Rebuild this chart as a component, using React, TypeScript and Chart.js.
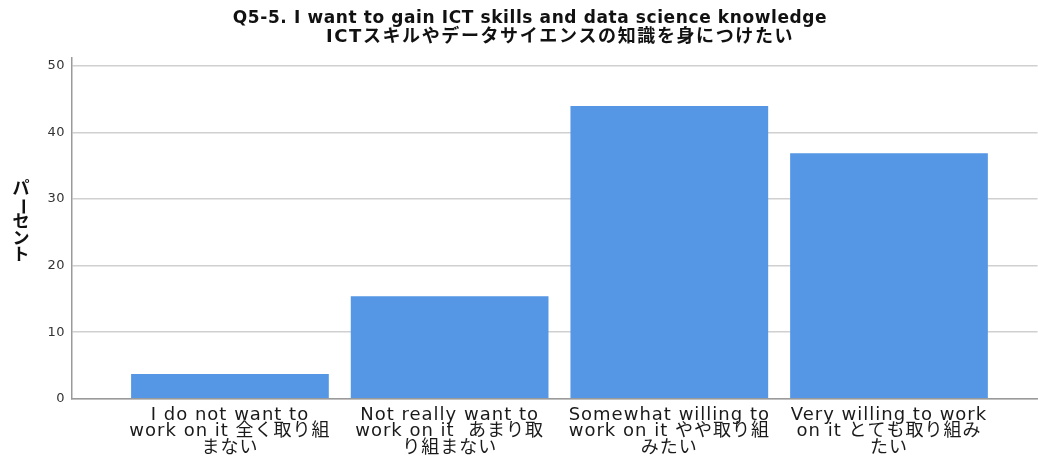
import React, { useEffect, useRef } from "react";
import { Chart, registerables } from "chart.js";

Chart.register(...registerables);

const categories: string[][] = [
  ["I do not want to", "work on it 全く取り組", "まない"],
  ["Not really want to", "work on it  あまり取", "り組まない"],
  ["Somewhat willing to", "work on it やや取り組", "みたい"],
  ["Very willing to work", "on it とても取り組み", "たい"],
];
const percents: number[] = [3.7, 15.4, 44.0, 36.9];
const yTicks: number[] = [0, 10, 20, 30, 40, 50];
const titleLines: string[] = [
  "Q5-5. I want to gain ICT skills and data science knowledge",
  "ICTスキルやデータサイエンスの知識を身につけたい",
];
const yLabel = "パーセント";

const FONT = "'DejaVu Sans', 'Noto Sans CJK JP', sans-serif";

const overlay = {
  id: "overlay",
  afterDraw(chart: any) {
    const ctx = chart.ctx;
    ctx.save();
    ctx.fillStyle = "#111";
    ctx.textBaseline = "middle";
    ctx.textAlign = "center";
    ctx.font = `bold 17px ${FONT}`;
    ctx.letterSpacing = "0.6px";
    ctx.fillText(titleLines[0], 530, 18.5);
    ctx.font = `bold 18px ${FONT}`;
    ctx.letterSpacing = "1.6px";
    ctx.fillText(titleLines[1], 560, 37);
    ctx.letterSpacing = "0px";
    ctx.font = `bold 17px ${FONT}`;
    const chars = Array.from(yLabel);
    let y = 190;
    for (const ch of chars) {
      if (ch === "ー") {
        ctx.save();
        ctx.translate(21, y);
        ctx.rotate(Math.PI / 2);
        ctx.fillText(ch, 0, 0);
        ctx.restore();
      } else {
        ctx.fillText(ch, 21, y);
      }
      y += 16.5;
    }
    ctx.restore();
  },
};

function patchLabels(s: any, spacing: string) {
  if (s.__patched) return;
  s.__patched = true;
  const orig = s.drawLabels;
  s.drawLabels = function (area: any) {
    const ctx = this.ctx;
    const prev = ctx.letterSpacing;
    ctx.letterSpacing = spacing;
    orig.call(this, area);
    ctx.letterSpacing = prev || "0px";
  };
}

export default function App() {
  const ref = useRef<HTMLCanvasElement>(null);
  useEffect(() => {
    if (!ref.current) return;
    const chart = new Chart(ref.current, {
      type: "bar",
      data: {
        datasets: [
          {
            data: percents.map((v, i) => ({ x: i, y: v })),
            backgroundColor: "#5596E5",
            borderWidth: 0,
            barPercentage: 0.9,
            categoryPercentage: 1,
          },
        ],
      },
      options: {
        animation: false,
        responsive: false,
        maintainAspectRatio: false,
        layout: { padding: { top: 58, right: 0.5, left: 0, bottom: 0 } },
        plugins: {
          legend: { display: false },
          title: { display: false },
          tooltip: { enabled: false },
        },
        scales: {
          x: {
            type: "linear",
            offset: false,
            min: -0.719,
            max: 3.676,
            afterBuildTicks: (s: any) => {
              s.ticks = categories.map((_, i) => ({ value: i }));
              patchLabels(s, "1px");
            },
            afterFit: (s: any) => {
              s.height = 60.3;
            },
            grid: { display: false, drawTicks: false, offset: false },
            border: { display: true, color: "#9a9a9a", width: 1.5 },
            ticks: {
              autoSkip: false,
              maxRotation: 0,
              padding: 8,
              color: "#1a1a1a",
              font: { family: FONT, size: 18, lineHeight: 0.92 },
              callback: (v: any) => categories[Math.round(Number(v))] ?? "",
            },
          },
          y: {
            min: 0,
            max: 51.2,
            afterBuildTicks: (s: any) => {
              s.ticks = yTicks.map((v) => ({ value: v }));
              patchLabels(s, "0.5px");
            },
            afterFit: (s: any) => {
              s.width = 72;
            },
            grid: { color: "#d0d0d0", lineWidth: 1.5, drawTicks: false },
            border: { display: true, color: "#9a9a9a", width: 1.5 },
            ticks: {
              padding: 7,
              color: "#333",
              font: { family: FONT, size: 13 },
            },
          },
        },
      },
      plugins: [overlay],
    });
    return () => chart.destroy();
  }, []);
  return (
    <div style={{ position: "fixed", left: 0, top: 0, width: 1038, height: 459, background: "#fff" }}>
      <canvas ref={ref} width={1038} height={459} style={{ width: 1038, height: 459 }} />
    </div>
  );
}
